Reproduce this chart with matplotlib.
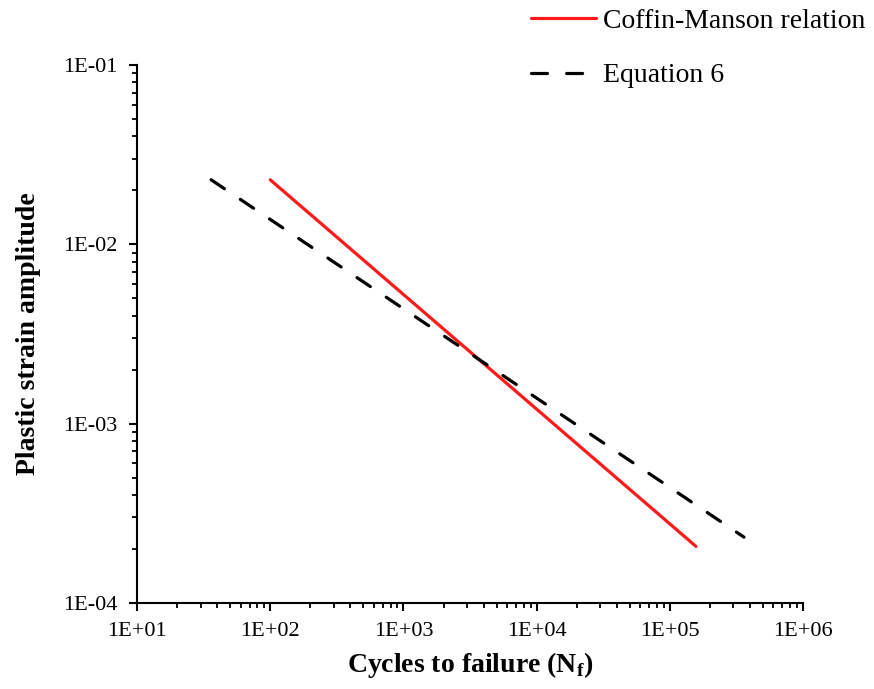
import numpy as np
import matplotlib

matplotlib.use("Agg")
import matplotlib.pyplot as plt
from matplotlib.ticker import LogLocator, NullFormatter, FixedFormatter, FixedLocator

plt.rcParams.update({
    "font.family": "serif",
    "font.serif": ["Liberation Serif", "DejaVu Serif"],
    "mathtext.fontset": "custom",
    "mathtext.rm": "Liberation Serif",
    "mathtext.bf": "Liberation Serif:bold",
})

# (end points of the two straight log-log lines)
CM_N = [100, 1.57e5]
CM_EPS = [2.29e-2, 2.07e-4]
EQ6_N = [36, 3.6e5]
EQ6_EPS = [2.29e-2, 2.33e-4]

X_TICKS = [1e1, 1e2, 1e3, 1e4, 1e5, 1e6]
X_LABELS = ["1E+01", "1E+02", "1E+03", "1E+04", "1E+05", "1E+06"]
Y_TICKS = [1e-4, 1e-3, 1e-2, 1e-1]
Y_LABELS = ["1E-04", "1E-03", "1E-02", "1E-01"]

fig = plt.figure(figsize=(8.74, 6.89), dpi=100)
ax = fig.add_axes([0.1568, 0.1248, 0.762, 0.7809])

ax.plot(CM_N, CM_EPS, color="#ff1a1a", lw=2.3, label="Coffin-Manson relation",
        solid_capstyle="round")
ax.plot(EQ6_N, EQ6_EPS, color="black", lw=2.3, dashes=(5, 6),
        dash_capstyle="round", label="Equation 6")

ax.set_xscale("log")
ax.set_yscale("log")
ax.set_xlim(1e1, 1e6)
ax.set_ylim(1e-4, 1e-1)

ax.xaxis.set_major_locator(FixedLocator(X_TICKS))
ax.xaxis.set_major_formatter(FixedFormatter(X_LABELS))
ax.yaxis.set_major_locator(FixedLocator(Y_TICKS))
ax.yaxis.set_major_formatter(FixedFormatter(Y_LABELS))
ax.xaxis.set_minor_locator(LogLocator(base=10, subs=np.arange(2, 10)))
ax.yaxis.set_minor_locator(LogLocator(base=10, subs=np.arange(2, 10)))
ax.xaxis.set_minor_formatter(NullFormatter())
ax.yaxis.set_minor_formatter(NullFormatter())

ax.tick_params(which="major", length=6, width=1.5, labelsize=16, pad=8)
ax.tick_params(which="minor", length=3.5, width=1.3)
for sp in ("top", "right"):
    ax.spines[sp].set_visible(False)
for sp in ("left", "bottom"):
    ax.spines[sp].set_linewidth(1.5)

ax.set_xlabel(r"Cycles to failure (N$_\mathbf{f}$)", fontsize=20,
              fontweight="bold", labelpad=6)
ax.set_ylabel("Plastic strain amplitude", fontsize=20, fontweight="bold",
              labelpad=16)

fig.legend(loc="upper right", bbox_to_anchor=(1.0, 1.0), frameon=False,
           fontsize=20, handlelength=2.35, handletextpad=0.25,
           labelspacing=1.05, borderaxespad=0.0, borderpad=0.3)

fig.savefig("out.png", dpi=100)
